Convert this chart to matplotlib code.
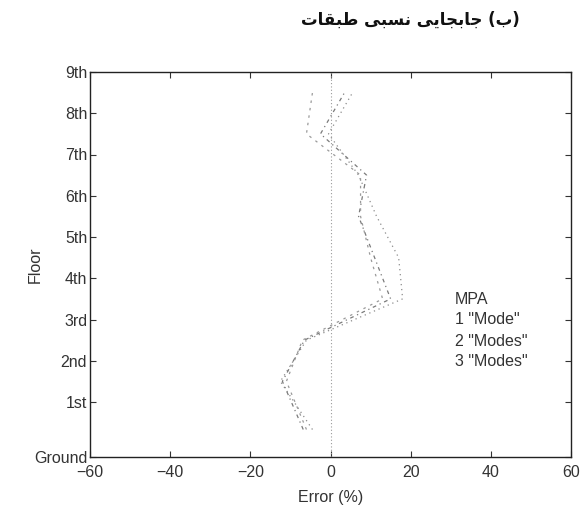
import matplotlib
matplotlib.use("Agg")
import matplotlib.pyplot as plt
import numpy as np

# Floor levels (m) and their labels
floor_labels = ["Ground", "1st", "2nd", "3rd", "4th", "5th", "6th", "7th", "8th", "9th"]
floor_heights = [0, 4, 7, 10, 13, 16, 19, 22, 25, 28]

# Story drift error (%) of MPA with 1, 2 and 3 modes, stories 1..9
err_1mode = [-4.5, -12.5, -6.0, 18.0, 17.0, 11.5, 7.0, -0.5, 5.5]
err_2modes = [-6.8, -12.0, -6.5, 15.0, 11.0, 7.0, 9.0, -2.5, 3.5]
err_3modes = [-6.0, -11.0, -7.0, 13.0, 10.0, 7.5, 7.5, -6.0, -4.5]

x_ticks = [-60, -40, -20, 0, 20, 40, 60]

# Title in Persian, written with Arabic presentation forms in display order
title_words = [
    "\uFE95\uFE8E\uFED8\uFE92\uFEC3",                 # طبقات
    "\uFEF0\uFE92\uFEB4\uFEE7",                       # نسبی
    "\uFEF0\uFEF3\uFE8E\uFEA0\uFE91\uFE8E\uFE9F",     # جابجایی
    "(\uFE8F)",                                       # (ب)
]
title_text = " ".join(title_words)

legend_lines = ["MPA", '1 "Mode"', '2 "Modes"', '3 "Modes"']

plt.rcParams["font.family"] = ["Liberation Sans", "DejaVu Sans"]

W, H = 581, 509
fig = plt.figure(figsize=(W / 100, H / 100), dpi=100)
ax = fig.add_axes([90 / W, 1 - 457 / H, 481 / W, 385 / H])

mid = [(floor_heights[i] + floor_heights[i + 1]) / 2 for i in range(len(floor_heights) - 1)]

ax.axvline(0, color="#9a9a9a", lw=0.8, ls=(0, (1, 2)))
ax.plot(err_1mode, mid, color="#8c8c8c", lw=0.9, ls=(0, (1, 3)))
ax.plot(err_2modes, mid, color="#7a7a7a", lw=0.9, ls=(0, (3, 3, 1, 3)))
ax.plot(err_3modes, mid, color="#9a9a9a", lw=0.9, ls=(0, (2, 4)))

ax.set_xlim(-60, 60)
ax.set_ylim(0, 28)
ax.set_xticks(x_ticks)
ax.set_xticklabels([str(v).replace("-", "\u2212") for v in x_ticks])
ax.set_yticks(floor_heights)
ax.set_yticklabels(floor_labels)
ax.tick_params(direction="in", length=4, width=0.8, top=True, right=True,
               labelsize=11.5, colors="#333333")
ax.tick_params(axis="x", pad=6)
ax.tick_params(axis="y", pad=2)
for s in ax.spines.values():
    s.set_linewidth(1.0)
    s.set_color("#222222")

ax.set_xlabel("Error (%)", fontsize=11.5, color="#333333")
ax.set_ylabel("Floor", fontsize=11.5, color="#333333")
ax.xaxis.set_label_coords(0.5, -0.085)
ax.yaxis.set_label_coords(-0.098, 0.5)

for i, line in enumerate(legend_lines):
    fig.text(455 / W, 1 - (299 + i * 21) / H, line, fontsize=11.5,
             va="center", ha="left", color="#333333")

fig.text(410 / W, 1 - 20 / H, title_text, fontsize=12, fontweight="bold",
         family="DejaVu Sans", ha="center", va="center", color="#111111")

fig.savefig("out.png", dpi=100)
